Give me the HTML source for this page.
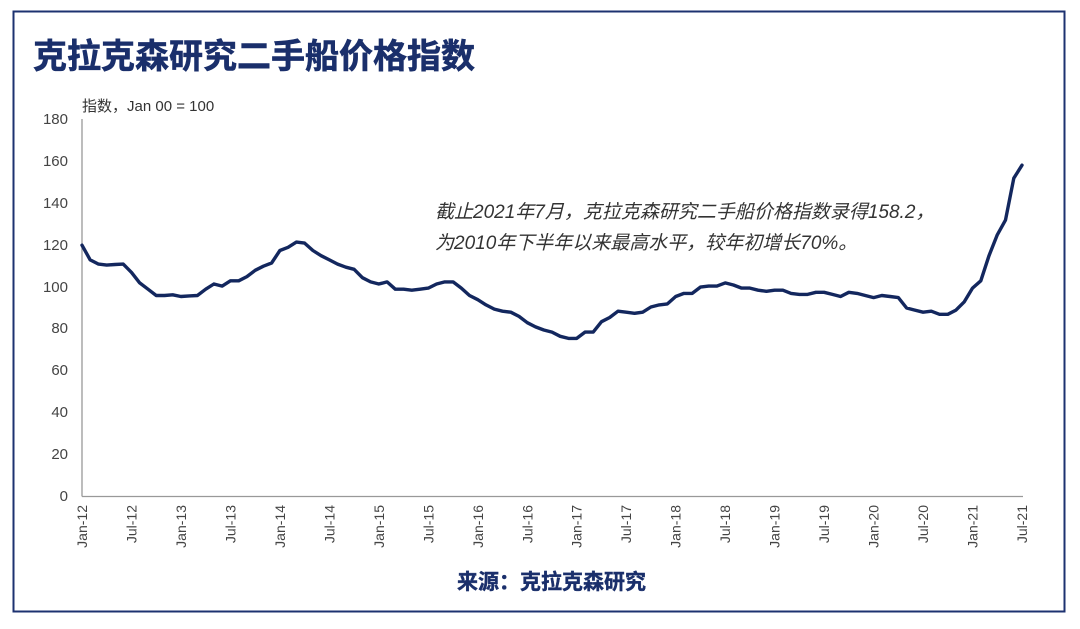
<!DOCTYPE html>
<html><head><meta charset="utf-8"><style>
html,body{margin:0;padding:0;background:#fff;}
body{width:1080px;height:629px;position:relative;overflow:hidden;font-family:"Liberation Sans","Noto Sans CJK SC",sans-serif;}
</style></head><body>
<svg width="1080" height="629" xmlns="http://www.w3.org/2000/svg" style="position:absolute;left:0;top:0">
<rect x="13.5" y="11.5" width="1051" height="600" fill="none" stroke="#1d3270" stroke-width="2"/>
<text x="33" y="68" font-size="34" font-weight="bold" fill="#1a2f6b" stroke="#1a2f6b" stroke-width="0.6" font-family="'Liberation Sans','Noto Sans CJK SC',sans-serif">克拉克森研究二手船价格指数</text>
<text x="82" y="111" font-size="15" fill="#333" font-family="'Liberation Sans','Noto Sans CJK SC',sans-serif">指数，Jan 00 = 100</text>
<g font-size="15" fill="#444" text-anchor="end" font-family="'Liberation Sans',sans-serif">
<text x="68" y="501">0</text><text x="68" y="459">20</text><text x="68" y="417">40</text><text x="68" y="375">60</text><text x="68" y="333">80</text><text x="68" y="292">100</text><text x="68" y="250">120</text><text x="68" y="208">140</text><text x="68" y="166">160</text><text x="68" y="124">180</text>
</g>
<line x1="82" y1="119" x2="82" y2="496.5" stroke="#999" stroke-width="1.3"/>
<line x1="82" y1="496.5" x2="1023" y2="496.5" stroke="#999" stroke-width="1.3"/>
<g id="xl" font-size="14" fill="#444" text-anchor="end" font-family="'Liberation Sans',sans-serif"></g>
<text x="435" y="218" font-size="19" font-style="italic" fill="#333" font-family="'Liberation Sans','Noto Sans CJK SC',sans-serif">截止2021年7月，克拉克森研究二手船价格指数录得158.2，</text>
<text x="435" y="249" font-size="19" font-style="italic" fill="#333" font-family="'Liberation Sans','Noto Sans CJK SC',sans-serif">为2010年下半年以来最高水平，较年初增长70%。</text>
<text x="457" y="589" font-size="21" font-weight="bold" fill="#1a2f6b" stroke="#1a2f6b" stroke-width="0.4" font-family="'Liberation Sans','Noto Sans CJK SC',sans-serif">来源：克拉克森研究</text>
<polyline id="ln" fill="none" stroke="#13275e" stroke-width="3.4" stroke-linejoin="round" stroke-linecap="round"/>
</svg>
<script>
var d=[120,113,111,110.5,110.8,111,107,102,99,96,96,96.3,95.5,95.8,96,99,101.5,100.5,103,103,105,108,110,111.5,117.5,119,121.5,121,117.5,115,113,111,109.5,108.5,104.5,102.5,101.5,102.5,99,99,98.5,99,99.5,101.5,102.5,102.5,99.5,96,94,91.5,89.5,88.5,88,86,83,81,79.5,78.5,76.5,75.5,75.5,78.5,78.5,83.5,85.5,88.5,88,87.5,88,90.5,91.5,92,95.5,97,97,100,100.5,100.5,102,101,99.5,99.5,98.5,98,98.5,98.5,97,96.5,96.5,97.5,97.5,96.5,95.5,97.5,97,96,95,96,95.5,95,90,89,88,88.5,87,87,89,93,99.5,103,115,125,132,152,158.2];
var s=(1022-82)/114,p=[];
for(var i=0;i<d.length;i++)p.push((82+i*s).toFixed(1)+","+(496.5-d[i]*2.094).toFixed(1));
document.getElementById('ln').setAttribute('points',p.join(' '));
var g=document.getElementById('xl'),h='';
for(var k=0;k<=19;k++){var m=k*6,yr=12+Math.floor(m/12),lab=(m%12?'Jul-':'Jan-')+yr,x=82+m*s+5;
h+='<text transform="translate('+x.toFixed(1)+',505) rotate(-90)">'+lab+'</text>';}
g.innerHTML=h;
</script>
</body></html>
